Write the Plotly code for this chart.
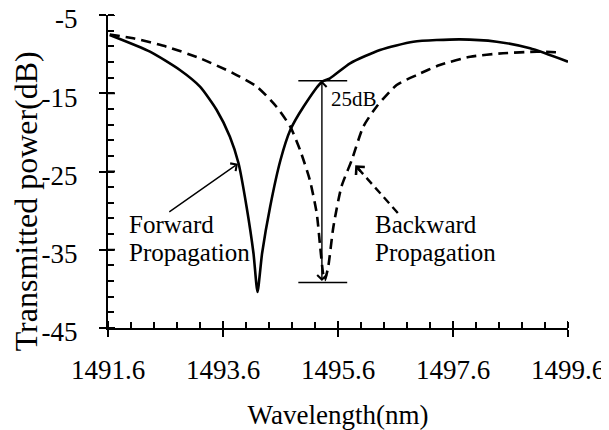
import plotly.graph_objects as go
import math

# ---- data ----
fwd_wl = [1491.63, 1492.33, 1492.85, 1493.20, 1493.49, 1493.72, 1493.87, 1494.01, 1494.13, 1494.20,
          1494.28, 1494.42, 1494.60, 1494.77, 1495.00, 1495.32, 1495.46, 1495.81, 1496.33, 1496.91,
          1497.72, 1498.36, 1498.94, 1499.60]
fwd_db = [-7.56, -9.69, -12.03, -14.16, -17.14, -20.55, -23.95, -29.50, -35.45, -40.4,
          -35.45, -29.50, -23.53, -19.70, -16.72, -13.52, -13.09, -11.17, -9.47, -8.41,
          -8.11, -8.41, -9.26, -10.97]

bwd_wl = [1491.63, 1492.04, 1492.62, 1493.20, 1493.78, 1494.19, 1494.53, 1494.77, 1494.94, 1495.11,
          1495.23, 1495.29, 1495.34, 1495.37, 1495.43, 1495.52, 1495.66, 1495.84, 1496.04, 1496.27,
          1496.62, 1496.97, 1497.37, 1497.90, 1498.47, 1499.06, 1499.46]
bwd_db = [-7.5, -7.98, -9.05, -10.53, -12.45, -14.16, -16.72, -19.27, -22.25, -26.09,
          -30.34, -34.61, -38.01, -38.9, -37.17, -32.05, -26.94, -23.53, -19.27, -16.72,
          -13.95, -12.67, -11.39, -10.33, -9.89, -9.69, -9.77]

x_ticks = [1491.6, 1493.6, 1495.6, 1497.6, 1499.6]
x_labels = ["1491.6", "1493.6", "1495.6", "1497.6", "1499.6"]
y_ticks = [-45, -35, -25, -15, -5]
y_labels = ["-45", "-35", "-25", "-15", "-5"]

# annotation anchors (data units)
dB_x = 1495.32
dB_top, dB_bot = -13.4, -39.2
bar_x0, bar_x1 = 1494.91, 1495.76
fwd_arrow = (1492.64, -30.3, 1493.86, -24.0)   # tail x, tail y, head x, head y
bwd_arrow = (1496.64, -30.3, 1495.90, -24.2)

FONT = "Liberation Serif"
X_RANGE = [1491.6, 1499.6]
Y_RANGE = [-45, -5]
PLOT_W, PLOT_H = 460, 313

fig = go.Figure()
fig.add_trace(go.Scatter(x=bwd_wl, y=bwd_db, mode="lines", name="Backward",
                         line=dict(color="black", width=2.6, dash="10px,6px", shape="spline", smoothing=0.6)))
fig.add_trace(go.Scatter(x=fwd_wl, y=fwd_db, mode="lines", name="Forward",
                         line=dict(color="black", width=2.6, shape="spline", smoothing=0.6)))

# dashed shaft of the backward arrow
fig.add_trace(go.Scatter(x=[bwd_arrow[0], bwd_arrow[2]], y=[bwd_arrow[1], bwd_arrow[3]], mode="lines",
                         line=dict(color="black", width=2.4, dash="8px,5px"),
                         showlegend=False, hoverinfo="skip"))

shapes = []
for yv in (dB_top, dB_bot):
    shapes.append(dict(type="line", xref="x", yref="y", x0=bar_x0, x1=bar_x1, y0=yv, y1=yv,
                       line=dict(color="black", width=1.5)))
# inner half of major ticks (ticks cross the axis)
for t in x_ticks:
    shapes.append(dict(type="line", xref="x", yref="y", x0=t, x1=t, ysizemode="pixel", yanchor=-45,
                       y0=0, y1=7, line=dict(color="black", width=2)))
for t in y_ticks:
    shapes.append(dict(type="line", yref="y", xref="x", y0=t, y1=t, xsizemode="pixel", xanchor=1491.6,
                       x0=0, x1=7, line=dict(color="black", width=2)))

ann = []
# forward arrow
ann.append(dict(x=fwd_arrow[2], y=fwd_arrow[3], ax=fwd_arrow[0], ay=fwd_arrow[1], axref="x", ayref="y",
                text="", showarrow=True, arrowhead=4, arrowsize=1.3, arrowwidth=1.4, arrowcolor="black"))
# 25 dB double arrow
ann.append(dict(x=dB_x, y=dB_top, ax=dB_x, ay=dB_bot, axref="x", ayref="y",
                text="", showarrow=True, arrowhead=4, startarrowhead=4, arrowside="end+start",
                arrowsize=1.3, startarrowsize=1.3, arrowwidth=1.4, arrowcolor="black"))
# head of the dashed backward arrow (short segment along the shaft direction)
dxp = (bwd_arrow[0] - bwd_arrow[2]) / (X_RANGE[1] - X_RANGE[0]) * PLOT_W
dyp = -(bwd_arrow[1] - bwd_arrow[3]) / (Y_RANGE[1] - Y_RANGE[0]) * PLOT_H
n = math.hypot(dxp, dyp)
ann.append(dict(x=bwd_arrow[2], y=bwd_arrow[3], ax=dxp / n * 10, ay=dyp / n * 10,
                text="", showarrow=True, arrowhead=4, arrowsize=0.95, arrowwidth=2.4, arrowcolor="black"))

tf = dict(family=FONT, size=25, color="black")
ann.append(dict(x=1491.93, y=-31.8, text="Forward", showarrow=False, xanchor="left", yanchor="middle", font=tf))
ann.append(dict(x=1491.93, y=-35.4, text="Propagation", showarrow=False, xanchor="left", yanchor="middle", font=tf))
ann.append(dict(x=1496.2, y=-31.8, text="Backward", showarrow=False, xanchor="left", yanchor="middle", font=tf))
ann.append(dict(x=1496.2, y=-35.4, text="Propagation", showarrow=False, xanchor="left", yanchor="middle", font=tf))
ann.append(dict(x=1495.45, y=-15.7, text="25dB", showarrow=False, xanchor="left", yanchor="middle",
                font=dict(family=FONT, size=21, color="black")))
# y axis title (placed as in the reference, lower than the plot centre)
ann.append(dict(xref="paper", yref="paper", x=-0.178, y=0.405, text="Transmitted power(dB)", textangle=-90,
                showarrow=False, xanchor="center", yanchor="middle",
                font=dict(family=FONT, size=32, color="black")))

# the page body has an 8px margin, so the figure is sized to the remaining window
fig.update_layout(
    width=601, height=422,
    margin=dict(l=100, r=601 - 100 - PLOT_W, t=7, b=422 - 7 - PLOT_H),
    paper_bgcolor="white", plot_bgcolor="white",
    showlegend=False,
    shapes=shapes, annotations=ann,
    font=dict(family=FONT, color="black"),
    xaxis=dict(range=X_RANGE, tickmode="array", tickvals=x_ticks, ticktext=x_labels,
               ticks="outside", ticklen=7, tickwidth=2, tickcolor="black", automargin=False,
               ticklabeloverflow="allow",
               minor=dict(dtick=0.4, tick0=1491.6, ticks="inside", ticklen=6, tickwidth=2, tickcolor="black"),
               showline=True, linewidth=2, linecolor="black", showgrid=False, zeroline=False,
               tickfont=dict(family=FONT, size=27, color="black"), ticklabelstandoff=10,
               title=dict(text="Wavelength(nm)", font=dict(family=FONT, size=27, color="black"), standoff=22)),
    yaxis=dict(range=Y_RANGE, tickmode="array", tickvals=y_ticks, ticktext=y_labels,
               ticks="outside", ticklen=7, tickwidth=2, tickcolor="black", automargin=False,
               ticklabeloverflow="allow", ticklabelshift=4,
               minor=dict(dtick=2, tick0=-45, ticks="inside", ticklen=6, tickwidth=2, tickcolor="black"),
               showline=True, linewidth=2, linecolor="black", showgrid=False, zeroline=False,
               tickfont=dict(family=FONT, size=27, color="black"), ticklabelstandoff=16),
)

fig.write_html("out.html")
